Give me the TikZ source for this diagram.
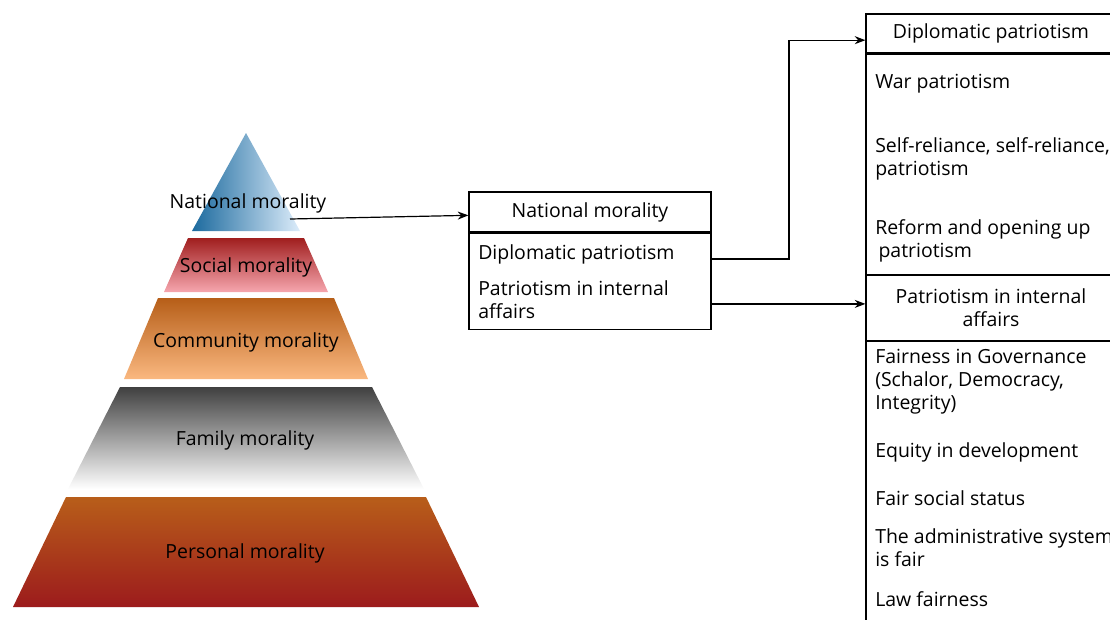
\documentclass[tikz,border=0pt]{standalone}
\usepackage{fontspec}
\setmainfont{Open Sans}
\usepackage{tikz}
\usetikzlibrary{positioning,arrows.meta}

\definecolor{blueDark}{HTML}{1C6A9E}
\definecolor{blueLight}{HTML}{DCECFA}
\definecolor{redDark}{HTML}{A01E1E}
\definecolor{redLight}{HTML}{F6A6AE}
\definecolor{orangeDark}{HTML}{B65E18}
\definecolor{orangeLight}{HTML}{FAB880}
\definecolor{greyDark}{HTML}{404040}
\definecolor{rustTop}{HTML}{B85E1A}
\definecolor{rustBottom}{HTML}{9C1B1C}

\begin{document}
\begin{tikzpicture}[x=0.75pt, y=-0.75pt,
    font=\fontsize{14.6}{17.25}\selectfont,
    lbl/.style={inner sep=0pt, anchor=base},
    item/.style={inner sep=0pt, anchor=base west, align=left},
    box/.style={draw, line width=0.9pt, inner sep=0pt},
    arr/.style={-{Stealth[length=8pt,width=6pt]}, line width=0.9pt}]
\useasboundingbox (0,0) rectangle (1110,619);
\clip (0,0) rectangle (1110,619);

\path[left color=blueDark, right color=blueLight] (246,133) -- (300,231) -- (192,231) -- cycle;
\path[top color=redDark, bottom color=redLight] (188,238) -- (304,238) -- (328,292) -- (164,292) -- cycle;
\path[top color=orangeDark, bottom color=orangeLight] (158,298) -- (334,298) -- (368,379) -- (124,379) -- cycle;
\path[top color=greyDark, bottom color=white] (120,387) -- (372,387) -- (424,489) -- (68,489) -- cycle;
\path[top color=rustTop, bottom color=rustBottom] (66,497) -- (426,497) -- (479,607) -- (13,607) -- cycle;

\node[lbl] (natLbl) at (248,208) {National morality};
\node[lbl] (socLbl) at (246,272) {Social morality};
\node[lbl] (comLbl) at (246,347) {Community morality};
\node[lbl] (famLbl) at (245,445) {Family morality};
\node[lbl] (perLbl) at (245,558) {Personal morality};
\coordinate (natTip) at (290,219);

\node[box, minimum width=181.5pt, minimum height=30pt] (midTitle) at (590,212) {National morality};
\node[box, minimum width=181.5pt, minimum height=72pt, below=0pt of midTitle] (midBody) {};
\node[item] (dipItem) at (478,259) {Diplomatic patriotism};
\node[item] (intItem) at (478,318) {Patriotism in internal\\affairs};

\node[box, minimum width=187.5pt, minimum height=29.25pt] (rTitle) at (991,33.5) {Diplomatic patriotism};
\node[box, minimum width=187.5pt, minimum height=165pt, below=0pt of rTitle] (rBody) {};
\node[box, minimum width=187.5pt, minimum height=48.75pt, below=0pt of rBody, align=center] (rTitle2) {Patriotism in internal\\affairs};
\node[box, minimum width=187.5pt, minimum height=225pt, below=0pt of rTitle2] (rBody2) {};

\node[item] (warItem) at (875,88) {War patriotism};
\node[item] (selfItem) at (875,175) {Self-reliance, self-reliance,\\patriotism};
\node[item] (refItem) at (875,257) {Reform and opening up\\ \,patriotism};
\node[item] (govItem) at (875,409) {Fairness in Governance\\(Schalor, Democracy,\\Integrity)};
\node[item] (eqItem) at (875,457) {Equity in development};
\node[item] (statItem) at (875,505) {Fair social status};
\node[item] (admItem) at (875,566) {The administrative system\\is fair};
\node[item] (lawItem) at (875,606) {Law fairness};

\draw[arr] (natTip) -- ([yshift=-2.5pt]midTitle.west);
\draw[arr] (dipItem.base -| midBody.east) -- (789,259) |- ([yshift=-5pt]rTitle.west);
\draw[arr] ([yshift=3pt]rTitle2.west -| midBody.east) -- ([yshift=3pt]rTitle2.west);
\end{tikzpicture}
\end{document}
